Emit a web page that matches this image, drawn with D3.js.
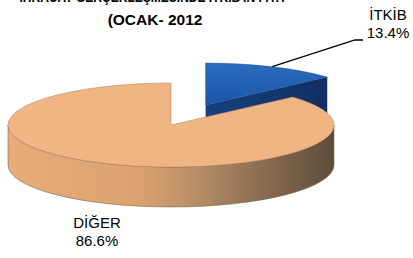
<!DOCTYPE html>
<html>
<head>
<meta charset="utf-8">
<script src="https://cdn.jsdelivr.net/npm/d3@7"></script>
<style>
  body { margin: 0; background: #fff; }
  text { font-family: "Liberation Sans", Arial, sans-serif; }
</style>
</head>
<body>
<script>
// pie values
const categories = ['İTKİB', 'DİĞER'];
const shares = [13.4, 86.6];
const titleLines = ["İHRACAT GERÇEKLEŞMESİNDE İTKİB'İN PAYI", '(OCAK- 2012'];

const W = 413, H = 258;
const PIE = { cx: 171, cy: 125, rx: 163, ry: 42, depth: 40, explode: 0.52 };

const svg = d3.select('body').append('svg')
    .attr('width', W)
    .attr('height', H);

const defs = svg.append('defs');

const sideGrad = defs.append('linearGradient')
    .attr('id', 'sideBeige')
    .attr('gradientUnits', 'userSpaceOnUse')
    .attr('x1', PIE.cx - PIE.rx).attr('x2', PIE.cx + PIE.rx)
    .attr('y1', 0).attr('y2', 0);
[[0, '#e6ac79'], [0.4, '#dba271'], [0.6, '#b38b66'], [0.8, '#86694f'], [1, '#5e4c3b']]
    .forEach(s => sideGrad.append('stop').attr('offset', s[0]).attr('stop-color', s[1]));

const blueGrad = defs.append('linearGradient')
    .attr('id', 'topBlue')
    .attr('x1', 0).attr('x2', 0).attr('y1', 0).attr('y2', 1);
[[0, '#2a6cc0'], [1, '#1a56a6']]
    .forEach(s => blueGrad.append('stop').attr('offset', s[0]).attr('stop-color', s[1]));

const faceGrad = defs.append('linearGradient')
    .attr('id', 'faceBlue')
    .attr('x1', 0).attr('x2', 1).attr('y1', 0).attr('y2', 0);
[[0, '#16407f'], [1, '#102f63']]
    .forEach(s => faceGrad.append('stop').attr('offset', s[0]).attr('stop-color', s[1]));

const topColor = d3.scaleOrdinal().domain(categories).range(['url(#topBlue)', '#f0b583']);
const sideColor = d3.scaleOrdinal().domain(categories).range(['url(#faceBlue)', 'url(#sideBeige)']);

const pie = d3.pie().sort(null).value(d => d.value);
const arcs = pie(categories.map((c, i) => ({ name: c, value: shares[i] })));

// point on the ellipse, angle clockwise from 12 o'clock
const pt = (a, ox, oy, dz = 0) => [ox + PIE.rx * Math.sin(a), oy - PIE.ry * Math.cos(a) + dz];

function topPath(d, ox, oy) {
    const p0 = pt(d.startAngle, ox, oy), p1 = pt(d.endAngle, ox, oy);
    const large = d.endAngle - d.startAngle > Math.PI ? 1 : 0;
    return `M${ox},${oy}L${p0}A${PIE.rx},${PIE.ry} 0 ${large} 1 ${p1}Z`;
}

function outerSide(d, ox, oy) {
    const a0 = Math.max(d.startAngle, Math.PI / 2), a1 = Math.min(d.endAngle, 3 * Math.PI / 2);
    if (a1 <= a0) return null;
    const s = pt(a0, ox, oy), e = pt(a1, ox, oy);
    const eb = pt(a1, ox, oy, PIE.depth), sb = pt(a0, ox, oy, PIE.depth);
    return `M${s}A${PIE.rx},${PIE.ry} 0 0 1 ${e}L${eb}A${PIE.rx},${PIE.ry} 0 0 0 ${sb}Z`;
}

function radialFace(a, ox, oy) {
    const p = pt(a, ox, oy);
    return `M${ox},${oy}L${p}L${p[0]},${p[1] + PIE.depth}L${ox},${oy + PIE.depth}Z`;
}

const chart = svg.append('g');

arcs.forEach(d => {
    const mid = (d.startAngle + d.endAngle) / 2;
    const ex = d.data.name === 'İTKİB' ? PIE.explode : 0;
    d.ox = PIE.cx + ex * PIE.rx * Math.sin(mid);
    d.oy = PIE.cy - ex * PIE.ry * Math.cos(mid);
});

// blue slice sits behind, so it is drawn first
arcs.forEach(d => {
    const g = chart.append('g');
    // the cut face at the end angle turns toward the viewer for angles below 180°
    if (d.endAngle > 0 && d.endAngle < Math.PI) {
        g.append('path').attr('d', radialFace(d.endAngle, d.ox, d.oy))
            .attr('fill', sideColor(d.data.name));
    }
    const side = outerSide(d, d.ox, d.oy);
    if (side) {
        g.append('path').attr('d', side)
            .attr('fill', sideColor(d.data.name))
            .attr('stroke', '#6b553f').attr('stroke-width', 0.5);
    }
    g.append('path').attr('d', topPath(d, d.ox, d.oy))
        .attr('fill', topColor(d.data.name))
        .attr('stroke', d.data.name === 'DİĞER' ? '#a8825e' : '#1a4c90')
        .attr('stroke-width', 0.5);
});

// labels
const itkib = arcs[0];
const lm = (itkib.startAngle + itkib.endAngle) / 2;
const lp = pt(lm, itkib.ox, itkib.oy);
svg.append('polyline')
    .attr('points', [lp, [355, 40], [363, 40]].map(p => p.join(',')).join(' '))
    .attr('fill', 'none')
    .attr('stroke', '#000')
    .attr('stroke-width', 1.3);

const labelPos = { 'İTKİB': [388, 20], 'DİĞER': [97, 228] };
arcs.forEach(d => {
    const [x, y] = labelPos[d.data.name];
    const t = svg.append('text')
        .attr('text-anchor', 'middle')
        .attr('font-size', 15)
        .attr('fill', '#000');
    t.append('tspan').attr('x', x).attr('y', y).text(d.data.name);
    t.append('tspan').attr('x', x).attr('y', y + 18).text(d3.format('.1f')(d.data.value) + '%');
});

// title; the first line runs off the top edge, as in the source picture
svg.append('text')
    .attr('x', 152).attr('y', 2)
    .attr('text-anchor', 'middle')
    .attr('font-size', 15).attr('font-weight', 'bold')
    .attr('textLength', 265).attr('lengthAdjust', 'spacingAndGlyphs')
    .text(titleLines[0]);
svg.append('text')
    .attr('x', 155).attr('y', 25)
    .attr('text-anchor', 'middle')
    .attr('font-size', 15.5).attr('font-weight', 'bold')
    .text(titleLines[1]);
</script>
</body>
</html>
